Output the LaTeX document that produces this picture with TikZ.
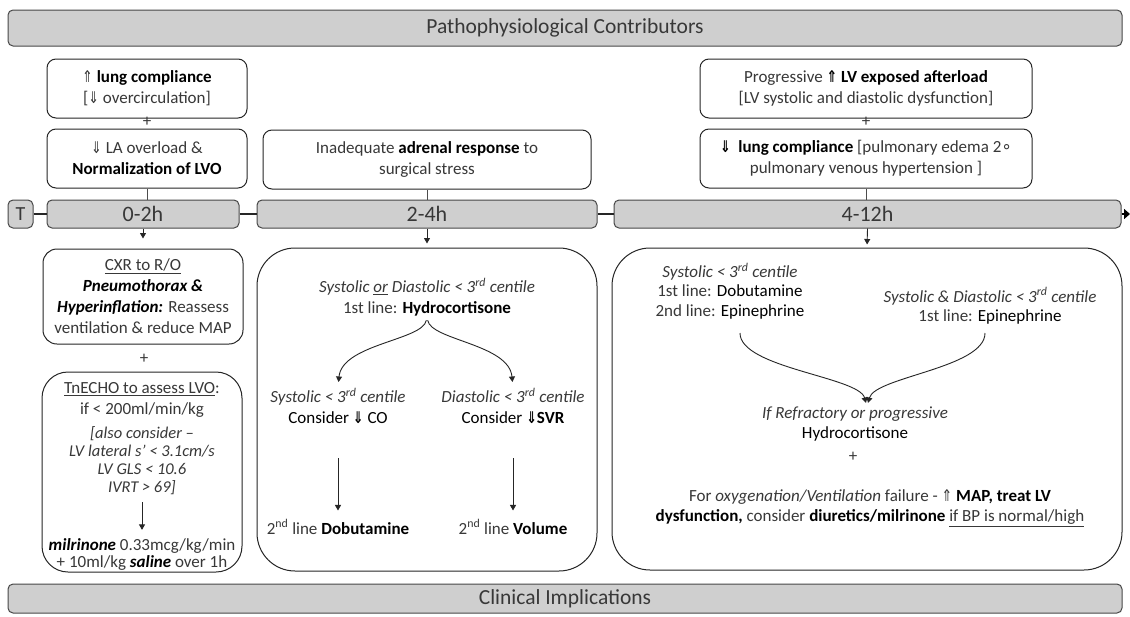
\documentclass[tikz,border=0pt]{standalone}
\usepackage{fontspec}
\usepackage{graphicx}
\setmainfont{Carlito}
\newfontfamily\symf{DejaVu Sans}
\usetikzlibrary{arrows.meta,calc}
\newcommand\UPA{\scalebox{0.75}[0.95]{\symf\char"21D1}}
\newcommand\DNA{\scalebox{0.75}[0.95]{\symf\char"21D3}}
\newcommand\RING{{\symf\char"2218}}
\newcommand\bk[1]{\textbf{\color{black}#1}}
\newcommand\bl[1]{{\color{black}#1}}
\begin{document}
\begin{tikzpicture}[x=1pt,y=-1pt,
  every node/.style={text=black!78},
  fsz/.style={font=\fontsize{17}{21}\selectfont},
  bar/.style={draw=black!72, fill=black!19, rounded corners=5pt, line width=1pt, inner sep=0pt},
  box/.style={draw=black!85, fill=white, rounded corners=9pt, line width=1pt, align=center, inner sep=0pt, fsz},
  txt/.style={align=center, inner sep=0pt, fsz},
  link/.style={draw=black!70, line width=0.8pt},
  tl/.style={draw=black!85, line width=2pt},
  tip/.style={draw=black!85, line width=0.9pt, -{Triangle[width=6pt,length=5.5pt]}},
]
\useasboundingbox (0,0) rectangle (1130,616);

% headers
\node[bar, minimum width=1114, minimum height=36, font=\fontsize{21.5}{25}\selectfont] (top) at (565,28) {Pathophysiological Contributors};
\node[bar, minimum width=1114, minimum height=29, font=\fontsize{21.5}{25}\selectfont] (bot) at (565,598.5) {Clinical Implications};

% contributors
\node[box, minimum width=200, minimum height=59] (A1) at (147,88.5) {\UPA\ \bk{lung compliance}\\{[}\DNA\ overcirculation]};
\node[txt] (plusA) at (147,122) {+};
\node[box, minimum width=200, minimum height=59] (A2) at (147,158.5) {\DNA\ LA overload \&\\\bk{Normalization of LVO}};
\node[box, minimum width=328, minimum height=59] (B) at (427,159.5) {Inadequate \bk{adrenal response} to\\surgical stress};
\node[box, minimum width=332, minimum height=59] (C1) at (866,88.5) {Progressive \bk{\UPA\ LV exposed afterload}\\{[}LV systolic and diastolic dysfunction]};
\node[txt] (plusC) at (866,122) {+};
\node[box, minimum width=332, minimum height=59] (C2) at (866,158.5) {\bk{\DNA\ \ lung compliance} [pulmonary edema 2\RING\\pulmonary venous hypertension ]};

% timeline
\node[bar, minimum width=25, minimum height=28, font=\fontsize{20}{24}\selectfont] (T) at (20.5,214) {T};
\node[bar, minimum width=192, minimum height=28, font=\fontsize{22}{26}\selectfont] (t1) at (143,214) {0-2h};
\node[bar, minimum width=340, minimum height=28, font=\fontsize{22}{26}\selectfont] (t2) at (427,214) {2-4h};
\node[bar, minimum width=507, minimum height=28, font=\fontsize{22}{26}\selectfont] (t3) at (867.5,214) {4-12h};
\coordinate (tend) at (1130,214);
\draw[tl] (T.east) -- (t1.west);
\draw[tl] (t1.east) -- (t2.west);
\draw[tl] (t2.east) -- (t3.west);
\draw[draw=black, line width=1.6pt, -{Triangle[width=10pt,length=6pt]}] (t3.east) -- (tend);

\draw[link] (A2.south) -- (A2.south |- t1.north);
\draw[link] (B.south) -- (t2.north);
\draw[link] (C2.south) -- (C2.south |- t3.north);

% 0-2h column
\node[box, rounded corners=14pt, minimum width=200, minimum height=95] (D1) at (143,296.5)
  {\underline{CXR to R/O}\\\textbf{\textit{\color{black}Pneumothorax \&}}\\\textbf{\textit{\color{black}Hyperinflation:}} Reassess\\ventilation \& reduce MAP};
\node[txt] (plusD) at (144,359) {+};
\node[box, rounded corners=26pt, minimum width=200, minimum height=200] (D2) at (142,472) {};
\node[txt] (d2a) at (142,400) {\underline{TnECHO to assess LVO}:\\if < 200ml/min/kg};
\node[txt, font=\itshape\fontsize{16.5}{18}\selectfont] (d2c) at (142,461) {[also consider --\\LV lateral s’ < 3.1cm/s\\LV GLS < 10.6\\IVRT > 69]};
\node[txt, font=\fontsize{17}{17}\selectfont] (d2d) at (142,554) {\textbf{\textit{\color{black}milrinone}} 0.33mcg/kg/min\\+ 10ml/kg \textbf{\textit{\color{black}saline}} over 1h};
\draw[tip, shorten <=7pt, shorten >=8pt] (d2c.south) -- (d2d.north);
\draw[tip, shorten >=10pt] (t1.south) -- (D1.north);

% 2-4h column
\node[box, rounded corners=38pt, minimum width=340, minimum height=323] (E) at (427,409.5) {};
\draw[tip, shorten >=4pt] (t2.south) -- (E.north);
\node[txt] (e1) at (427,297) {\textit{Systolic \underline{or} Diastolic < 3\textsuperscript{rd} centile}\\1st line: \bk{Hydrocortisone}};
\node[txt] (e2) at (338,406) {\textit{Systolic < 3\textsuperscript{rd} centile}\\\bl{Consider \textbf{\DNA} CO}};
\node[txt] (e3) at (513,406) {\textit{Diastolic < 3\textsuperscript{rd} centile}\\\bl{Consider \textbf{\DNA SVR}}};
\node[txt] (e4) at (338,527) {2\textsuperscript{nd} line \bk{Dobutamine}};
\node[txt] (e5) at (513,527) {2\textsuperscript{nd} line \bk{Volume}};
\draw[tip, shorten <=4pt, shorten >=6pt] (e1.south) .. controls +(-4,24) and +(4,-44) .. (e2.north);
\draw[tip, shorten <=4pt, shorten >=6pt] (e1.south) .. controls +(4,24) and +(-4,-44) .. (e3.north);
\draw[tip, shorten <=34pt, shorten >=9pt] (e2.south) -- (e4.north);
\draw[tip, shorten <=34pt, shorten >=9pt] (e3.south) -- (e5.north);

% 4-12h column
\node[box, rounded corners=38pt, minimum width=510, minimum height=322] (F) at (867,409) {};
\draw[tip, shorten >=3pt] (t3.south) -- (F.north);
\node[txt, font=\fontsize{17}{19.5}\selectfont] (f1) at (730,291) {\textit{Systolic < 3\textsuperscript{rd} centile}\\1st line: \bl{Dobutamine}\\2nd line: \bl{Epinephrine}};
\node[txt, font=\fontsize{17}{19.5}\selectfont] (f2) at (990,306) {\textit{Systolic \& Diastolic < 3\textsuperscript{rd} centile}\\1st line: \bl{Epinephrine}};
\coordinate (fa) at (740,333);
\coordinate (fb) at (985,333);
\node[txt, font=\fontsize{17}{19.5}\selectfont] (f3) at (855,424) {\textit{If Refractory or progressive}\\\bl{Hydrocortisone}};
\draw[tip, shorten >=4pt] (fa) .. controls +(0,35) and +(-8,-30) .. (f3.north -| 867,0);
\draw[tip, shorten >=4pt] (fb) .. controls +(0,35) and +(8,-30) .. (f3.north -| 867,0);
\node[txt] (plusF) at (853,457) {+};
\node[txt, font=\fontsize{17}{20}\selectfont] (f4) at (870,508) {For \textit{oxygenation/Ventilation} failure - \UPA\ \bk{MAP, treat LV}\\\bk{dysfunction,} consider \bk{diuretics/milrinone} \underline{if BP is normal/high}};
\end{tikzpicture}
\end{document}
